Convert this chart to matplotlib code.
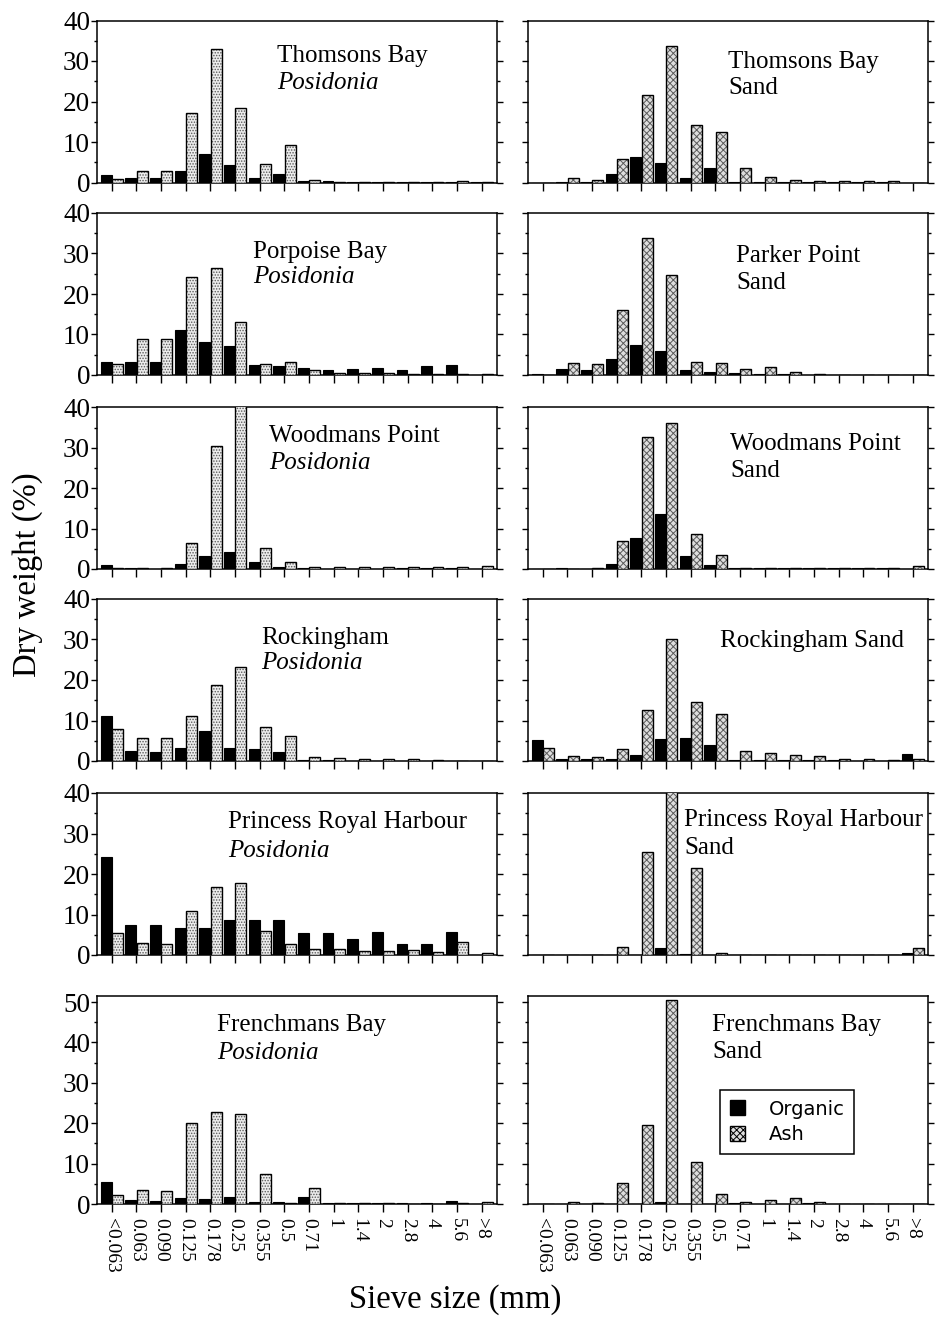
import matplotlib
matplotlib.use("Agg")
import matplotlib.pyplot as plt
from matplotlib.ticker import MultipleLocator, NullFormatter
from matplotlib.patches import Patch
import numpy as np

# Sieve classes (mm)
sieve_labels = ['<0.063', '0.063', '0.090', '0.125', '0.178', '0.25', '0.355',
                '0.5', '0.71', '1', '1.4', '2', '2.8', '4', '5.6', '>8']

# Dry weight (%) of organic and ash fractions retained on each sieve
thomsons_pos_org = [1.8, 1.2, 1.1, 2.8, 7.0, 4.3, 1.2, 2.1, 0.3, 0.3, 0.2, 0.2, 0.2, 0.2, 0.2, 0.1]
thomsons_pos_ash = [0.8, 2.9, 2.8, 17.2, 33.0, 18.4, 4.6, 9.3, 0.7, 0.2, 0.2, 0.2, 0.1, 0.2, 0.3, 0.1]

thomsons_sand_org = [0.0, 0.1, 0.1, 2.1, 6.2, 4.9, 1.1, 3.7, 0.2, 0.2, 0.1, 0.1, 0.1, 0.1, 0.1, 0.0]
thomsons_sand_ash = [0.0, 1.0, 0.7, 5.8, 21.7, 33.6, 14.3, 12.5, 3.5, 1.4, 0.5, 0.4, 0.4, 0.4, 0.4, 0.0]

porpoise_pos_org = [3.3, 3.3, 3.1, 11.0, 8.2, 7.1, 2.4, 2.2, 1.8, 1.2, 1.4, 1.8, 1.2, 2.2, 2.4, 0.1]
porpoise_pos_ash = [2.7, 9.0, 8.8, 24.3, 26.5, 13.1, 2.7, 3.1, 1.2, 0.6, 0.4, 0.4, 0.3, 0.2, 0.2, 0.2]

parker_sand_org = [0.2, 1.5, 1.3, 3.9, 7.4, 5.9, 1.2, 0.8, 0.4, 0.3, 0.2, 0.1, 0.1, 0.0, 0.0, 0.0]
parker_sand_ash = [0.1, 2.9, 2.7, 16.1, 33.8, 24.6, 3.1, 3.0, 1.6, 1.9, 0.8, 0.3, 0.1, 0.0, 0.0, 0.0]

woodmans_pos_org = [1.0, 0.2, 0.1, 1.3, 3.1, 4.3, 1.8, 0.4, 0.2, 0.1, 0.1, 0.1, 0.2, 0.3, 0.3, 0.1]
woodmans_pos_ash = [0.3, 0.2, 0.3, 6.4, 30.5, 41.0, 5.2, 1.8, 0.4, 0.4, 0.5, 0.6, 0.6, 0.6, 0.5, 0.8]

woodmans_sand_org = [0.0, 0.2, 0.1, 1.2, 7.8, 13.5, 3.3, 1.0, 0.3, 0.3, 0.3, 0.3, 0.2, 0.2, 0.2, 0.1]
woodmans_sand_ash = [0.0, 0.1, 0.2, 7.0, 32.8, 36.2, 8.6, 3.5, 0.3, 0.3, 0.2, 0.2, 0.2, 0.2, 0.2, 0.8]

rock_pos_org = [11.2, 2.5, 2.3, 3.2, 7.5, 3.3, 2.9, 2.2, 0.2, 0.2, 0.1, 0.1, 0.1, 0.1, 0.0, 0.0]
rock_pos_ash = [7.9, 5.6, 5.6, 11.2, 18.8, 23.2, 8.3, 6.2, 1.0, 0.7, 0.6, 0.5, 0.5, 0.3, 0.0, 0.0]

rock_sand_org = [5.1, 0.4, 0.4, 0.6, 1.4, 5.5, 5.7, 3.9, 0.2, 0.2, 0.3, 0.3, 0.2, 0.1, 0.1, 1.8]
rock_sand_ash = [3.1, 1.2, 1.0, 2.9, 12.7, 30.1, 14.5, 11.7, 2.5, 1.9, 1.4, 1.2, 0.6, 0.4, 0.3, 0.4]

prh_pos_org = [24.3, 7.4, 7.4, 6.6, 6.6, 8.7, 8.7, 8.7, 5.4, 5.4, 3.9, 5.6, 2.7, 2.7, 5.6, 0.1]
prh_pos_ash = [5.4, 2.9, 2.7, 10.9, 16.9, 17.7, 5.9, 2.7, 1.4, 1.6, 1.1, 1.1, 1.3, 0.8, 3.3, 0.6]

prh_sand_org = [0.0, 0.1, 0.1, 0.0, 0.1, 1.7, 0.2, 0.0, 0.1, 0.1, 0.0, 0.0, 0.0, 0.0, 0.0, 0.4]
prh_sand_ash = [0.0, 0.0, 0.0, 1.9, 25.4, 41.5, 21.4, 0.6, 0.1, 0.1, 0.0, 0.0, 0.0, 0.0, 0.0, 1.7]

french_pos_org = [5.4, 1.0, 0.8, 1.4, 1.2, 1.8, 0.4, 0.4, 1.7, 0.2, 0.2, 0.2, 0.3, 0.3, 0.8, 0.1]
french_pos_ash = [2.3, 3.5, 3.3, 20.1, 22.9, 22.3, 7.4, 0.3, 4.0, 0.2, 0.2, 0.2, 0.1, 0.1, 0.2, 0.4]

french_sand_org = [0.0, 0.1, 0.1, 0.0, 0.0, 0.4, 0.0, 0.0, 0.3, 0.0, 0.0, 0.2, 0.1, 0.0, 0.0, 0.0]
french_sand_ash = [0.0, 0.4, 0.3, 5.2, 19.5, 50.5, 10.5, 2.5, 0.6, 1.1, 1.6, 0.4, 0.1, 0.0, 0.0, 0.0]

# (title line 1, title line 2, italic second line?, organic, ash)
panels = [
    [("Thomsons Bay", "Posidonia", True, thomsons_pos_org, thomsons_pos_ash),
     ("Thomsons Bay", "Sand", False, thomsons_sand_org, thomsons_sand_ash)],
    [("Porpoise Bay", "Posidonia", True, porpoise_pos_org, porpoise_pos_ash),
     ("Parker Point", "Sand", False, parker_sand_org, parker_sand_ash)],
    [("Woodmans Point", "Posidonia", True, woodmans_pos_org, woodmans_pos_ash),
     ("Woodmans Point", "Sand", False, woodmans_sand_org, woodmans_sand_ash)],
    [("Rockingham", "Posidonia", True, rock_pos_org, rock_pos_ash),
     ("Rockingham Sand", None, False, rock_sand_org, rock_sand_ash)],
    [("Princess Royal Harbour", "Posidonia", True, prh_pos_org, prh_pos_ash),
     ("Princess Royal Harbour", "Sand", False, prh_sand_org, prh_sand_ash)],
    [("Frenchmans Bay", "Posidonia", True, french_pos_org, french_pos_ash),
     ("Frenchmans Bay", "Sand", False, french_sand_org, french_sand_ash)],
]

# title placement in axes fraction: (x, top of line 1, top of line 2)
title_pos = [
    [(0.45, 0.85, 0.68), (0.50, 0.81, 0.65)],
    [(0.39, 0.83, 0.67), (0.52, 0.80, 0.635)],
    [(0.43, 0.89, 0.725), (0.505, 0.84, 0.675)],
    [(0.41, 0.83, 0.67), (0.48, 0.81, None)],
    [(0.327, 0.89, 0.71), (0.39, 0.90, 0.73)],
    [(0.30, 0.913, 0.78), (0.46, 0.913, 0.784)],
]

W, H = 936, 1323
serif = "Liberation Serif"
plt.rcParams["font.family"] = serif
plt.rcParams["hatch.linewidth"] = 0.7

fig = plt.figure(figsize=(W / 100, H / 100), dpi=100)

row_px = [(20.5, 182.5), (213, 375), (407.5, 569), (599, 761), (793, 955), (996, 1204)]
col_px = [(97, 497), (528, 928)]
ytops = [40, 40, 40, 40, 40, 51.5]

x = np.arange(len(sieve_labels))
bw = 0.44
ash_hatch = ["......", "xxxxx"]
ash_face = ["#ececec", "#dedede"]

for r, row in enumerate(panels):
    top, bot = row_px[r]
    for c, (t1, t2, ital, org, ash) in enumerate(row):
        x0, x1 = col_px[c]
        ax = fig.add_axes([x0 / W, 1 - bot / H, (x1 - x0) / W, (bot - top) / H])
        ax.bar(x - bw / 2 - 0.01, org, width=bw, color="black", edgecolor="black",
               linewidth=0.8, zorder=3)
        ax.bar(x + bw / 2 + 0.01, ash, width=bw, facecolor=ash_face[c],
               edgecolor="#5a5a5a", hatch=ash_hatch[c], linewidth=0, zorder=3)
        ax.bar(x + bw / 2 + 0.01, ash, width=bw, facecolor="none",
               edgecolor="black", linewidth=1.0, zorder=4)
        ax.set_xlim(-0.6, 15.62)
        ax.set_ylim(0, ytops[r])
        ax.yaxis.set_major_locator(MultipleLocator(10))
        ax.yaxis.set_minor_locator(MultipleLocator(5))
        ax.set_xticks(x)
        ax.tick_params(axis="y", which="both", direction="out", left=True, right=True,
                       width=1.0, pad=1, labelsize=19.5)
        ax.tick_params(axis="y", which="major", length=4)
        ax.tick_params(axis="y", which="minor", length=2.5)
        ax.tick_params(axis="x", direction="out", length=6, width=1.0, pad=4)
        for s in ax.spines.values():
            s.set_linewidth(1.1)
        if c == 1:
            ax.yaxis.set_major_formatter(NullFormatter())
        if r == len(panels) - 1:
            ax.set_xticklabels(sieve_labels, rotation=-90, fontsize=14,
                               ha="center", va="top")
        else:
            ax.set_xticklabels([])

        tx, ty1, ty2 = title_pos[r][c]
        ax.text(tx, ty1, t1, transform=ax.transAxes, fontsize=18, va="top",
                ha="left", zorder=5)
        if t2 is not None:
            ax.text(tx, ty2, t2, transform=ax.transAxes, fontsize=18, va="top",
                    ha="left", style="italic" if ital else "normal", zorder=5)

        if r == len(panels) - 1 and c == 1:
            handles = [Patch(facecolor="black", edgecolor="black", label="Organic"),
                       Patch(facecolor=ash_face[1], edgecolor="black",
                             hatch=ash_hatch[1], label="Ash")]
            leg = ax.legend(handles=handles, loc="lower left",
                            bbox_to_anchor=(0.48, 0.24), borderaxespad=0,
                            frameon=True, fancybox=False, edgecolor="black",
                            prop={"family": "DejaVu Sans", "size": 14},
                            handlelength=0.8, handleheight=0.8, handletextpad=1.2,
                            labelspacing=0.35, borderpad=0.5)
            leg.get_frame().set_linewidth(1.1)
            leg.get_frame().set_alpha(1)

fig.text(28 / W, 1 - 575 / H, "Dry weight (%)", rotation=90, ha="center",
         va="center", fontsize=23.5)
fig.text(455 / W, 1 - 1300 / H, "Sieve size (mm)", ha="center", va="center",
         fontsize=23.5)

fig.savefig("out.png", dpi=100)
